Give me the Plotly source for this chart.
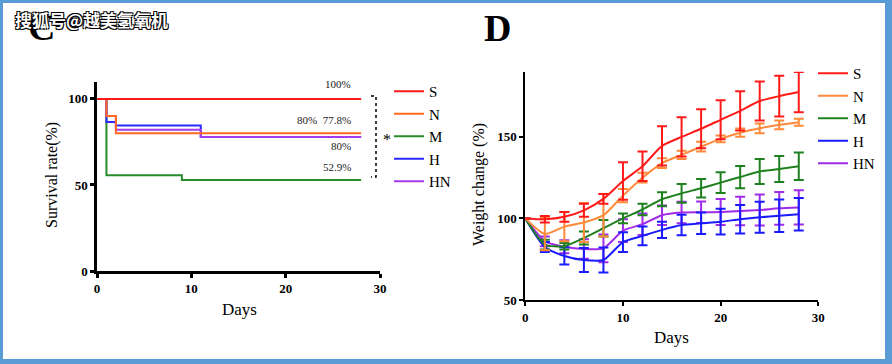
import plotly.graph_objects as go

# ---------------- data ----------------
groups = ["S", "N", "M", "H", "HN"]

# Panel C: Kaplan-Meier survival (step points)
surv_S_days = [0, 28]
surv_S = [100, 100]
surv_N_days = [0, 1, 2, 28]
surv_N = [100, 90, 80, 80]
surv_M_days = [0, 1, 9, 28]
surv_M = [100, 55.6, 52.9, 52.9]
surv_H_days = [0, 1, 2, 11, 28]
surv_H = [100, 86.6, 84.5, 77.8, 77.8]
surv_HN_days = [0, 1, 2, 11, 28]
surv_HN = [100, 90, 82.1, 77.8, 77.8]
surv_labels = ["100%", "80%  77.8%", "80%", "52.9%"]
surv_label_y = [108.7, 87.7, 72.6, 60.4]

# Panel D: weight change
wdays = [0, 2, 4, 6, 8, 10, 12, 14, 16, 18, 20, 22, 24, 26, 28]
w_S = [100, 99.5, 101, 105, 112, 123, 132, 144.5, 150, 155, 160.5, 166, 172, 175, 177.5]
w_S_err = [0, 2, 3, 4, 3, 11.5, 9, 12, 12, 12, 12, 12, 12, 12.5, 12.3]
w_N = [100, 90.5, 95, 97.5, 102, 114, 125, 134, 139, 144, 148.8, 152.6, 155.3, 157.4, 159]
w_N_err = [0, 10, 9, 12, 13, 4, 3, 3, 2.5, 3, 2, 2.5, 3, 2.7, 2.2]
w_M = [100, 84, 83, 88, 94, 100, 105.5, 111.8, 115.4, 118.5, 122, 125.4, 128.8, 130.3, 132]
w_M_err = [0, 3, 2, 4, 5, 3, 3.5, 4.3, 5.7, 5.7, 6.4, 6.8, 7.7, 8, 8.4]
w_H = [100, 82.5, 77, 74.5, 74.5, 85.5, 89.3, 93, 96, 97, 98, 99.5, 100.7, 101.7, 102.6]
w_H_err = [0, 3, 5.3, 7.4, 7.7, 6, 5.8, 5, 6.3, 6.6, 7.9, 8.7, 9.5, 10, 10]
w_HN = [100, 86, 82.7, 81.3, 81.7, 92.5, 96.5, 102, 103.6, 103.8, 104, 104.6, 105.2, 106.2, 106.8]
w_HN_err = [0, 3, 4, 6, 8.5, 7, 6.6, 6, 6.6, 6.6, 8, 8.7, 9.5, 10, 10.5]

x_ticks = [0, 10, 20, 30]
surv_yticks = [0, 50, 100]
weight_yticks = [50, 100, 150]

# ---------------- styling ----------------
W, H = 892, 364
def px(x):
    return x / W
def py(y):
    return 1 - y / H

SERIF = "Liberation Serif"
colC = {"S": "#FF1A1A", "N": "#FF6A1F", "M": "#2A8A2A", "H": "#2A2AFF", "HN": "#A43BEB"}
colD = {"S": "#FF1A1A", "N": "#FF8A3A", "M": "#1F801F", "H": "#1A1AFF", "HN": "#A02BE8"}

fig = go.Figure()

surv = {
    "S": (surv_S_days, surv_S), "N": (surv_N_days, surv_N), "M": (surv_M_days, surv_M),
    "H": (surv_H_days, surv_H), "HN": (surv_HN_days, surv_HN),
}
draw_order = ["M", "H", "HN", "N", "S"]
rank = {g: i for i, g in enumerate(groups)}
for g in draw_order:
    xd, yd = surv[g]
    fig.add_trace(go.Scatter(
        x=xd, y=yd, mode="lines", line=dict(color=colC[g], width=2, shape="hv"),
        name=g, legend="legend", legendrank=rank[g] + 1, xaxis="x", yaxis="y",
        hoverinfo="skip"))

wt = {
    "S": (w_S, w_S_err), "N": (w_N, w_N_err), "M": (w_M, w_M_err),
    "H": (w_H, w_H_err), "HN": (w_HN, w_HN_err),
}
for g in ["HN", "H", "M", "N", "S"]:
    m, e = wt[g]
    fig.add_trace(go.Scatter(
        x=wdays, y=m, mode="lines",
        line=dict(color=colD[g], width=2, shape="spline", smoothing=0.6),
        error_y=dict(type="data", array=e, visible=True, color=colD[g], thickness=2, width=5),
        name=g, legend="legend2", legendrank=rank[g] + 1, xaxis="x2", yaxis="y2",
        hoverinfo="skip"))

axis_common = dict(
    showgrid=False, zeroline=False, showline=True, linecolor="black",
    ticks="outside", tickcolor="black", ticklen=4, automargin=False,
    tickfont=dict(family=SERIF, size=13, color="black", weight="bold"),
)

fig.update_layout(
    width=W, height=H, autosize=False,
    margin=dict(l=0, r=0, t=0, b=0, pad=0, autoexpand=False),
    paper_bgcolor="#5B9BD5", plot_bgcolor="rgba(0,0,0,0)",
    xaxis=dict(domain=[px(97), px(380)], range=[0, 30], tickvals=x_ticks,
               linewidth=2.5, tickwidth=2.5, anchor="y", **axis_common),
    yaxis=dict(domain=[py(271), py(81.7)], range=[0, 110], tickvals=surv_yticks,
               linewidth=2.5, tickwidth=2.5, anchor="x", **axis_common),
    xaxis2=dict(domain=[px(525.3), px(818.3)], range=[0, 30], tickvals=x_ticks,
                linewidth=2, tickwidth=2, anchor="y2", **axis_common),
    yaxis2=dict(domain=[py(300), py(71.7)], range=[50, 190], tickvals=weight_yticks,
                linewidth=2, tickwidth=2, anchor="x2", **axis_common),
    legend=dict(x=px(389), y=py(75), xanchor="left", yanchor="top",
                bgcolor="rgba(0,0,0,0)", itemwidth=30, tracegroupgap=0,
                font=dict(family=SERIF, size=15, color="black")),
    legend2=dict(x=px(813), y=py(57), xanchor="left", yanchor="top",
                 bgcolor="rgba(0,0,0,0)", itemwidth=30, tracegroupgap=0,
                 font=dict(family=SERIF, size=15, color="black")),
    showlegend=True,
)

shapes = [
    dict(type="rect", xref="paper", yref="paper", x0=px(3), x1=px(885), y0=py(359), y1=py(3),
         fillcolor="white", line=dict(width=0), layer="below"),
    # significance bracket
    dict(type="path", xref="paper", yref="paper",
         path=f"M {px(371)} {py(96)} L {px(376)} {py(96)} L {px(376)} {py(177)} L {px(371)} {py(177)}",
         line=dict(color="black", width=1.5, dash="dot")),
]
fig.update_layout(shapes=shapes)

ann = []
for t, yv in zip(surv_labels, surv_label_y):
    ann.append(dict(x=27.1, y=yv, xref="x", yref="y", text=t, showarrow=False,
                    xanchor="right", yanchor="middle",
                    font=dict(family=SERIF, size=11, color="#222")))

def pann(x, y, text, size, anchor="center", **kw):
    font = dict(family=kw.pop("family", SERIF), size=size, color=kw.pop("color", "black"))
    if "weight" in kw:
        font["weight"] = kw.pop("weight")
    if "shadow" in kw:
        font["shadow"] = kw.pop("shadow")
    return dict(x=px(x), y=py(y), xref="paper", yref="paper", text=text, showarrow=False,
                xanchor=anchor, yanchor="middle", font=font, **kw)

ann += [
    pann(387, 139, "*", 16),
    pann(52, 175, "Survival rate(%)", 16, textangle=-90),
    pann(479, 185, "Weight change (%)", 16, textangle=-90),
    pann(239, 309, "Days", 17),
    pann(671, 337, "Days", 17),
    pann(498, 28, "D", 38, weight="bold"),
    pann(41, 27, "C", 38, weight="bold"),
    pann(13, 19, "搜狐号@越美氢氧机", 17, anchor="left", family="Noto Sans CJK SC",
         color="white", weight="bold",
         shadow="1px 1px 0 #000, -1px -1px 0 #000, 1px -1px 0 #000, -1px 1px 0 #000"),
]
fig.update_layout(annotations=ann)

fig.write_html("out.html", config={"displayModeBar": False},
               post_script="document.body.style.margin='0';document.body.style.padding='0';")
